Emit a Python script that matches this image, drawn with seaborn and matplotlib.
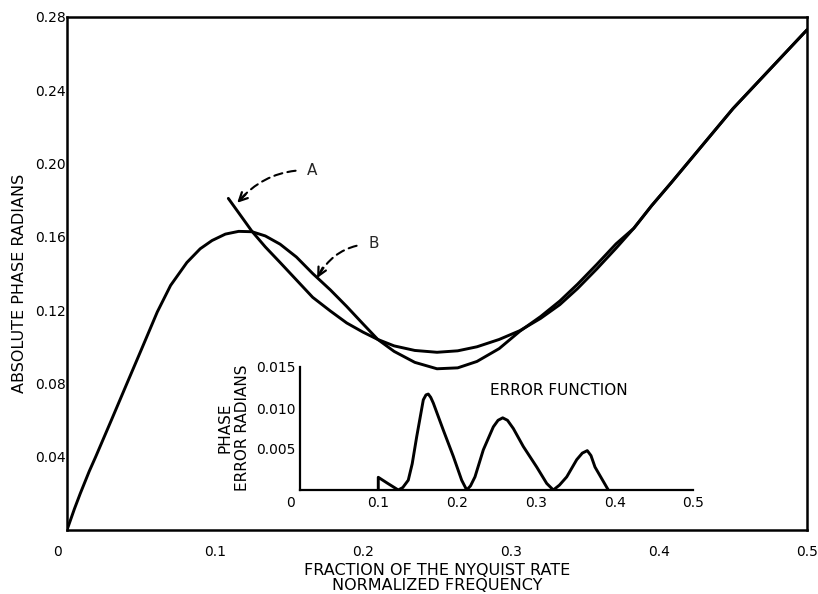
import matplotlib
matplotlib.use('Agg')
import matplotlib.pyplot as plt
import matplotlib.transforms as mtransforms
import seaborn as sns

# curve A: approximation, starts near x = 0.11
freq_a = [0.109, 0.117, 0.125, 0.134, 0.144, 0.155, 0.166, 0.178, 0.189,
          0.200, 0.210, 0.221, 0.235, 0.250, 0.264, 0.277, 0.292, 0.306,
          0.320, 0.333, 0.345, 0.358, 0.371, 0.383, 0.395, 0.408, 0.45, 0.5]
phase_a = [0.181, 0.172, 0.163, 0.1545, 0.146, 0.1365, 0.127, 0.1195, 0.113,
           0.108, 0.104, 0.1005, 0.098, 0.097, 0.0978, 0.100, 0.104, 0.1088,
           0.1155, 0.123, 0.1318, 0.1425, 0.1538, 0.1647, 0.177, 0.1893,
           0.230, 0.273]

# curve B: absolute phase from the origin
freq_b = [0, 0.005, 0.009, 0.015, 0.0194, 0.030, 0.0405, 0.050, 0.061, 0.070,
          0.081, 0.090, 0.098, 0.107, 0.116, 0.125, 0.134, 0.144, 0.155,
          0.166, 0.178, 0.189, 0.200, 0.210, 0.221, 0.235, 0.250, 0.264,
          0.277, 0.292, 0.306, 0.320, 0.333, 0.345, 0.358, 0.371, 0.383,
          0.395, 0.408, 0.45, 0.5]
phase_b = [0, 0.0115, 0.020, 0.032, 0.040, 0.060, 0.080, 0.098, 0.119, 0.1335,
           0.146, 0.1535, 0.158, 0.1615, 0.163, 0.1628, 0.1605, 0.156, 0.149,
           0.140, 0.131, 0.122, 0.1125, 0.104, 0.0975, 0.0915, 0.088, 0.0885,
           0.092, 0.099, 0.1085, 0.1165, 0.125, 0.1342, 0.145, 0.1562, 0.1647,
           0.177, 0.1893, 0.230, 0.273]

# inset: error function
err_freq = [0.0999, 0.0999, 0.112, 0.1253, 0.131, 0.138, 0.143, 0.1487,
            0.1571, 0.1605, 0.1634, 0.1665, 0.1698, 0.1825, 0.1952, 0.2058,
            0.2122, 0.217, 0.2227, 0.2333, 0.2460, 0.252, 0.2579, 0.264,
            0.2714, 0.2841, 0.3011, 0.3138, 0.3222, 0.330, 0.3392, 0.3519,
            0.359, 0.3653, 0.370, 0.3751, 0.392]
err_val = [0.0, 0.00155, 0.0008, 0.0, 0.0003, 0.0012, 0.0032, 0.0065,
           0.0110, 0.0116, 0.0117, 0.0113, 0.0106, 0.0073, 0.0041, 0.0012,
           0.0, 0.0005, 0.0016, 0.0049, 0.0077, 0.0085, 0.0088, 0.0085,
           0.0075, 0.0053, 0.0028, 0.0008, 0.0, 0.0006, 0.0016, 0.0037,
           0.0045, 0.0048, 0.0042, 0.0028, 0.0]

main_xticks = [0, 0.1, 0.2, 0.3, 0.4, 0.5]
main_xminor = [0.05, 0.15, 0.25, 0.35, 0.45]
main_yticks = [0.04, 0.08, 0.12, 0.16, 0.20, 0.24, 0.28]
main_yminor = [0.02, 0.06, 0.10, 0.14, 0.18, 0.22, 0.26]
inset_xticks = [0, 0.1, 0.2, 0.3, 0.4, 0.5]
inset_yticks = [0.005, 0.010, 0.015]
inset_ylabels = ['0.005', '0.010', '0.015']

sns.set_theme(style='white')
plt.rcParams['font.family'] = ['DejaVu Sans']

fig = plt.figure(figsize=(8.18, 5.94), dpi=100)
fig.patch.set_facecolor('white')

# --- main axes ---
ax = fig.add_axes([67 / 818, 64 / 594, 740 / 818, 513 / 594])
sns.lineplot(x=freq_b, y=phase_b, ax=ax, color='black', lw=2.1,
             estimator=None, sort=False, solid_joinstyle='round')
sns.lineplot(x=freq_a, y=phase_a, ax=ax, color='black', lw=2.1,
             estimator=None, sort=False, solid_joinstyle='round')
ax.set_xlim(0, 0.5)
ax.set_ylim(0, 0.28)
ax.set_xticks(main_xticks)
ax.set_xticklabels([f'{t:g}' for t in main_xticks])
ax.set_xticks(main_xminor, minor=True)
ax.set_yticks(main_yticks)
ax.set_yticklabels([f'{t:.2f}' for t in main_yticks])
ax.set_yticks(main_yminor, minor=True)
ax.tick_params(axis='x', which='both', direction='in', length=9, width=1.4,
               pad=11, labelsize=10, colors='black')
ax.tick_params(axis='y', which='both', direction='in', length=9, width=1.4,
               pad=1, labelsize=10, colors='black')
for s in ax.spines.values():
    s.set_color('black')
    s.set_linewidth(1.8)
ax.set_facecolor('white')

ax.set_xlabel('FRACTION OF THE NYQUIST RATE\nNORMALIZED FREQUENCY',
              fontsize=11.5, linespacing=1.05, color='black')
ax.xaxis.set_label_coords(0.5, -0.064)
ax.set_ylabel('ABSOLUTE PHASE RADIANS', fontsize=11.5, color='black')
ax.yaxis.set_label_coords(-0.054, 0.48)

# annotations A and B: dashed curved leader, solid open head
dash = (0, (4, 2.5))
ax.annotate('A', xy=(0.115, 0.1786), xytext=(0.1658, 0.1963),
            fontsize=11, ha='center', va='center',
            arrowprops=dict(arrowstyle='-', color='black', lw=1.5,
                            linestyle=dash, shrinkA=6, shrinkB=2,
                            connectionstyle='arc3,rad=0.25'))
ax.annotate('', xy=(0.115, 0.1786), xytext=(6, 6), textcoords='offset points',
            arrowprops=dict(arrowstyle='->,head_length=0.5,head_width=0.25',
                            color='black', lw=1.6, shrinkA=0, shrinkB=0))
ax.annotate('B', xy=(0.169, 0.1375), xytext=(0.207, 0.1562),
            fontsize=11, ha='center', va='center',
            arrowprops=dict(arrowstyle='-', color='black', lw=1.5,
                            linestyle=dash, shrinkA=6, shrinkB=2,
                            connectionstyle='arc3,rad=0.3'))
ax.annotate('', xy=(0.169, 0.1375), xytext=(4, 7.5), textcoords='offset points',
            arrowprops=dict(arrowstyle='->,head_length=0.5,head_width=0.25',
                            color='black', lw=1.6, shrinkA=0, shrinkB=0))

# --- inset: error function ---
axi = fig.add_axes([299.6 / 818, 104 / 594, 393.75 / 818, 123 / 594])
axi.set_facecolor('none')
sns.lineplot(x=err_freq, y=err_val, ax=axi, color='black', lw=2.1,
             estimator=None, sort=False, solid_joinstyle='round')
axi.set_xlim(0, 0.5)
axi.set_ylim(0, 0.015)
axi.set_xticks(inset_xticks)
axi.set_xticklabels([f'{t:g}' for t in inset_xticks])
axi.set_yticks(inset_yticks)
axi.set_yticklabels(inset_ylabels)
axi.tick_params(axis='both', direction='in', length=6, width=1.4,
                labelsize=10, colors='black')
axi.tick_params(axis='x', pad=4)
axi.tick_params(axis='y', pad=3)
for side in ['top', 'right']:
    axi.spines[side].set_visible(False)
for side in ['left', 'bottom']:
    axi.spines[side].set_color('black')
    axi.spines[side].set_linewidth(1.6)
axi.set_xlabel('')
axi.set_ylabel('PHASE\nERROR RADIANS', fontsize=11, linespacing=1.25,
               color='black')
axi.yaxis.set_label_coords(-0.125, 0.51)
axi.text(0.242, 0.0121, 'ERROR FUNCTION', fontsize=11, ha='left',
         va='center', color='black')

# the "0" labels sit a little left of the corner in the original
for a in (ax, axi):
    zero = a.get_xticklabels()[0]
    zero.set_transform(zero.get_transform() +
                       mtransforms.ScaledTranslation(-9 / 100, 0, fig.dpi_scale_trans))

fig.savefig('out.png', dpi=100, facecolor='white')
